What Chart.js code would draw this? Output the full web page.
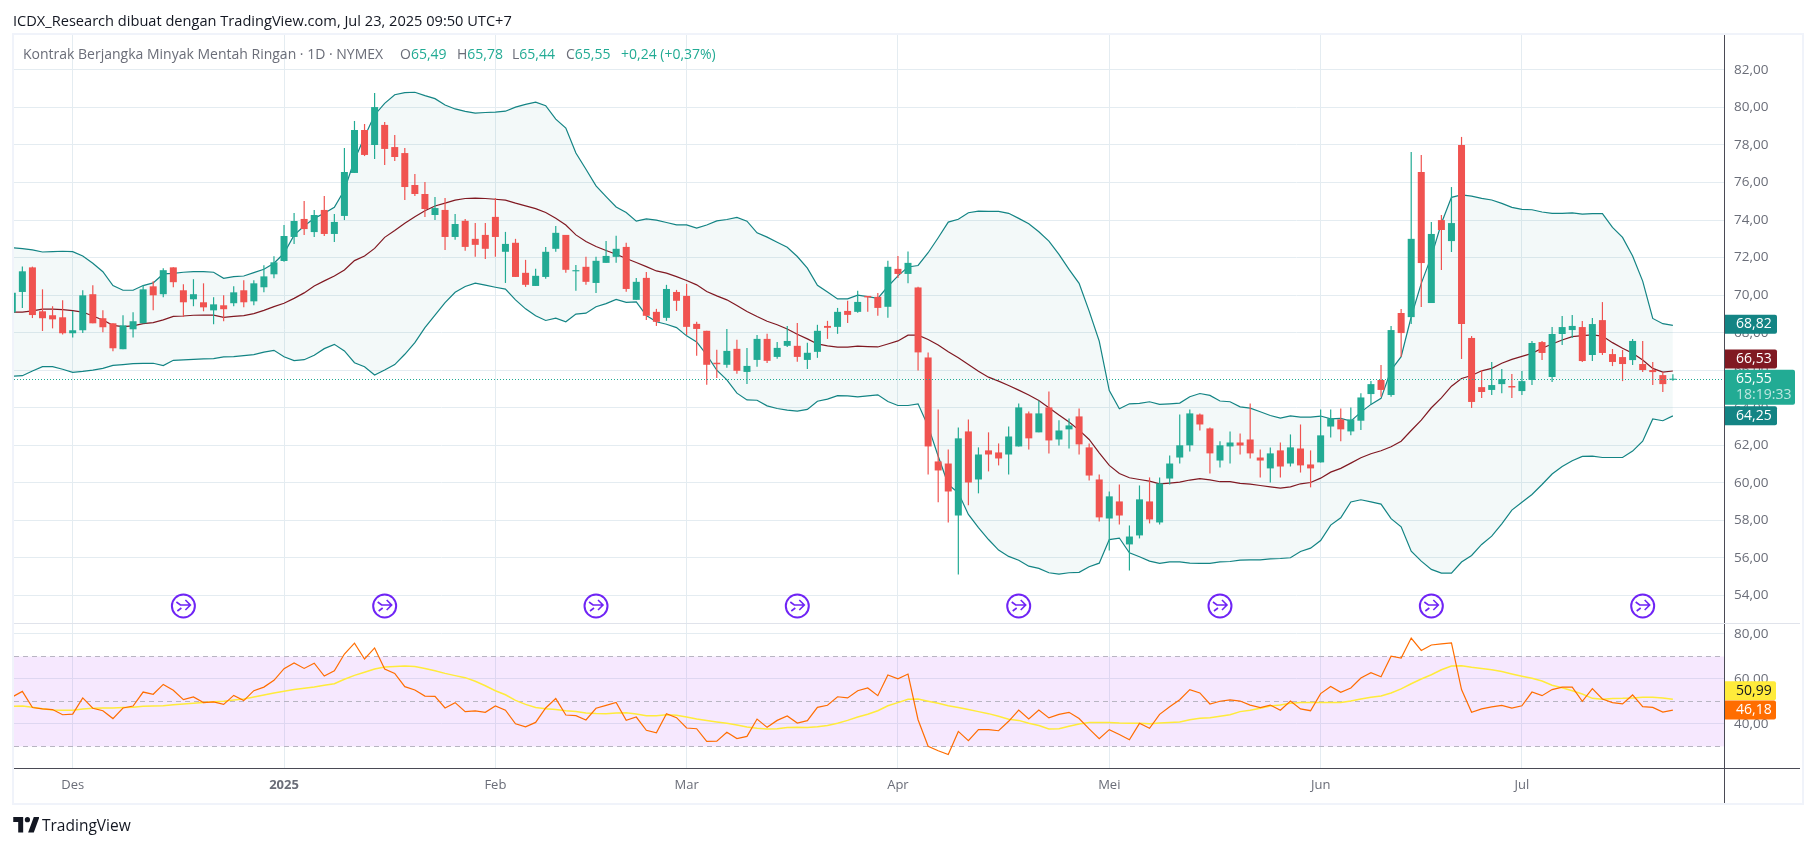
<!DOCTYPE html>
<html>
<head>
<meta charset="utf-8">
<title>Kontrak Berjangka Minyak Mentah Ringan</title>
<script src="https://cdn.jsdelivr.net/npm/chart.js@4"></script>
<style>
    html, body { margin: 0; padding: 0; background: #fff; }
    body { width: 1814px; height: 847px; position: relative; overflow: hidden; font-family: 'Open Sans', sans-serif; }
    canvas { position: absolute; left: 0; }
    #chartHarga { top: 0; }
    #chartRsi { top: 624px; }
    #judul { position: absolute; left: 13px; top: 10px; font-size: 14.6px; color: #131722; white-space: nowrap; }
    #legenda { position: absolute; left: 23px; top: 44px; font-size: 14px; color: #6a6d78; white-space: nowrap; }
    #legenda span { position: absolute; top: 0; }
    #legenda b { font-weight: normal; color: #22ab94; }
    .bingkai { position: absolute; left: 12px; top: 33px; width: 1788px; height: 768px; border: 2px solid #f0f3fa; pointer-events: none; }
    .garis { position: absolute; background: #4a4a55; }
    #logo { position: absolute; left: 13px; top: 817px; }
    #logoTeks { position: absolute; left: 42px; top: 814px; font-size: 15.5px; color: #131722; }
</style>
</head>
<body>
<canvas id="chartHarga" width="1814" height="624"></canvas>
<canvas id="chartRsi" width="1814" height="223"></canvas>
<div class="bingkai"></div>
<div class="garis" style="left:1724px;top:35px;width:1px;height:768px"></div>
<div class="garis" style="left:14px;top:768px;width:1786px;height:1px"></div>
<div style="position:absolute;left:14px;top:623px;width:1786px;height:1px;background:#e0e3eb"></div>
<div id="judul">ICDX_Research dibuat dengan TradingView.com, Jul 23, 2025 09:50 UTC+7</div>
<div id="legenda">Kontrak Berjangka Minyak Mentah Ringan · 1D · NYMEX
    <span style="left:377px">O<b>65,49</b></span>
    <span style="left:434px">H<b>65,78</b></span>
    <span style="left:489px">L<b>65,44</b></span>
    <span style="left:543px">C<b>65,55</b></span>
    <span style="left:598px"><b>+0,24 (+0,37%)</b></span>
</div>
<svg id="logo" width="26" height="17" viewBox="0 0 36 24"><path fill="#131722" d="M14 0H0v7h7v15h7V0Zm15 22h-8l8-22h8l-8 22ZM20 7.5a3.7 3.7 0 1 0 0-7.4 3.7 3.7 0 0 0 0 7.4Z"/></svg>
<div id="logoTeks">TradingView</div>

<script>
// harga harian
const opens = [69.07,70.17,71.48,69.14,68.93,68.82,67.97,68.13,70.05,68.77,
    68.50,67.12,68.18,68.50,70.47,70.05,71.48,70.26,69.78,69.62,
    69.19,69.46,69.57,70.26,69.67,70.42,71.11,71.82,73.1,74.06,
    73.36,74.54,73.26,74.22,76.51,78.8,78.0,79.07,77.89,77.57,
    75.87,75.39,74.27,74.54,73.1,73.96,73.0,73.21,74.17,72.31,
    72.79,71.19,70.49,70.97,72.47,73.21,71.27,71.51,70.65,71.72,
    72.04,72.57,69.75,70.92,69.11,68.79,70.17,69.96,68.47,68.1,
    66.4,66.29,67.14,65.91,66.55,67.67,66.71,67.3,67.3,66.55,
    66.98,68.36,68.31,69.16,69.11,69.96,69.91,69.38,71.4,71.13,
    70.41,66.68,61.14,61.03,58.26,62.74,60.18,61.73,61.62,61.51,
    61.94,63.7,62.69,64.02,62.31,62.85,63.54,61.89,60.18,58.1,
    59.01,56.72,57.2,59.01,57.89,60.23,61.35,62.0,63.64,62.9,
    61.19,61.94,62.15,62.31,61.35,60.77,61.73,61.03,61.83,60.98,
    61.09,63.0,63.38,62.74,63.31,64.73,65.48,64.68,69.05,68.83,
    76.56,69.58,74.0,72.88,78.0,67.72,65.1,64.95,65.26,65.16,
    64.89,65.48,67.5,65.64,67.93,68.14,68.3,66.81,68.67,66.86,
    66.7,66.54,66.33,66.01,65.74,65.49];
const highs = [70.13,71.52,71.52,70.31,69.41,69.73,69.16,70.26,70.53,69.19,
    68.50,68.93,69.09,70.53,70.74,71.43,71.48,70.58,70.85,70.63,
    69.89,69.99,70.47,70.79,70.79,71.59,72.07,73.74,74.38,75.02,
    74.54,75.28,74.32,77.84,79.28,79.12,80.77,79.23,78.53,77.84,
    76.46,76.03,75.23,75.18,74.32,74.06,73.85,73.85,75.17,73.37,
    73.0,71.88,71.4,72.57,73.69,73.21,71.61,72.04,72.04,72.89,
    73.16,72.79,70.92,71.24,69.27,70.55,70.28,70.6,68.58,68.1,
    67.09,68.2,67.62,67.19,67.88,67.94,67.51,68.36,68.52,67.46,
    68.42,68.63,69.32,69.7,70.23,69.96,70.12,71.83,72.09,72.33,
    70.45,66.95,63.91,61.78,62.95,63.38,61.89,62.69,62.1,63.0,
    64.23,63.8,64.39,64.87,63.33,63.43,63.96,62.1,60.45,59.54,
    59.91,57.73,59.86,60.29,60.29,61.46,63.64,63.91,63.7,62.95,
    62.21,62.74,62.63,64.23,61.78,61.89,62.15,62.58,63.11,61.73,
    63.91,63.91,63.96,64.02,64.77,65.42,66.28,68.36,69.26,77.63,
    77.47,73.9,74.27,75.76,78.43,67.82,66.01,66.44,66.06,65.8,
    65.96,67.56,67.56,68.3,68.89,68.94,68.62,68.78,69.63,67.13,
    67.08,67.66,67.56,66.44,65.9,65.78];
const lows = [69.07,69.32,68.78,68.09,68.23,67.91,67.75,67.99,68.50,68.02,
    67.01,67.12,67.75,68.50,69.19,69.89,70.42,68.84,69.41,69.14,
    68.45,68.61,69.41,69.35,69.46,70.15,70.9,71.78,72.73,73.2,
    73.1,73.15,72.83,74.0,76.51,77.41,77.25,76.93,77.15,75.07,
    75.28,74.16,74.0,72.41,72.95,72.36,72.04,71.93,72.04,70.65,
    70.97,70.44,70.49,70.87,72.31,71.19,70.23,70.55,70.12,71.72,
    71.72,70.18,69.75,68.68,68.36,68.63,69.16,67.88,66.77,65.22,
    65.59,66.13,65.81,65.27,66.18,66.39,66.61,67.24,66.45,66.07,
    66.66,67.67,67.94,68.52,69.06,69.11,68.9,68.79,70.92,70.63,
    65.99,60.45,58.96,57.89,55.12,58.8,59.44,60.61,60.93,60.45,
    61.94,61.78,62.69,61.57,61.99,61.83,61.51,60.13,57.94,56.4,
    57.78,55.33,57.04,57.84,57.78,59.91,61.03,61.67,62.79,60.5,
    60.82,61.03,61.51,61.3,60.29,60.02,60.29,60.87,60.55,59.76,
    61.09,62.42,62.21,62.53,62.81,64.2,64.59,64.59,66.72,68.46,
    69.37,69.58,71.34,72.3,66.6,63.99,64.52,64.68,64.78,64.52,
    64.68,65.21,66.54,65.37,67.34,67.72,66.44,66.49,66.81,66.22,
    65.42,66.28,65.9,65.21,64.84,65.44];
const closes = [70.13,71.27,68.94,68.77,68.71,67.97,68.13,69.99,68.50,68.29,
    67.17,68.39,68.61,70.31,69.99,71.33,70.69,69.62,70.05,69.35,
    69.51,69.25,70.15,69.62,70.63,71.0,71.75,73.15,73.95,73.52,
    74.27,73.26,73.9,76.56,78.8,77.47,80.02,77.79,77.36,75.76,
    75.39,74.59,74.64,73.1,73.79,72.57,72.68,72.47,73.1,72.73,
    70.97,70.55,71.03,72.31,73.32,71.35,71.33,70.71,71.83,72.09,
    72.47,70.33,70.71,68.9,68.58,70.33,69.7,68.31,68.2,66.29,
    66.32,67.03,65.97,66.23,67.67,66.5,67.19,67.56,66.71,66.93,
    68.1,68.26,69.11,68.95,69.64,69.88,69.32,71.51,71.13,71.72,
    66.95,61.94,60.66,59.54,62.37,60.02,61.51,61.51,61.3,62.47,
    64.02,62.37,63.7,62.26,62.79,63.06,62.05,60.39,58.16,59.28,
    58.26,57.14,59.12,58.05,59.97,61.03,62.0,63.7,63.11,61.57,
    62.0,62.15,61.99,61.57,61.19,61.57,60.87,61.89,60.93,60.77,
    62.53,63.43,62.85,63.38,64.55,65.26,64.95,68.14,67.98,73.0,
    71.71,73.26,73.47,73.84,68.46,64.31,64.84,65.21,65.53,65.08,
    65.42,67.45,66.92,67.93,68.3,68.36,66.49,68.46,66.92,66.44,
    66.33,67.56,66.01,65.9,65.26,65.55];

// bollinger bands
const bbUpper = [72.53,72.48,72.41,72.30,72.32,72.34,72.32,72.09,71.70,71.25,
    70.51,70.26,70.26,70.51,70.65,71.13,71.16,71.22,71.25,71.25,
    71.22,70.9,70.99,71.02,71.2,71.38,71.7,72.23,73.2,73.68,
    74.09,74.36,74.68,75.6,77.2,78.44,79.6,80.22,80.68,80.79,
    80.81,80.63,80.47,80.13,79.92,79.79,79.7,79.73,79.75,79.8,
    80.02,80.16,80.28,80.09,79.38,78.9,77.57,76.71,75.82,75.25,
    74.7,74.4,73.94,74.06,74.0,73.87,73.74,73.74,73.57,73.74,
    73.96,74.03,74.14,73.94,73.32,73.09,72.82,72.55,72.06,71.44,
    70.53,70.17,69.8,69.8,70.0,69.92,69.83,70.46,71.03,71.5,
    71.58,72.26,73.06,73.89,74.04,74.39,74.48,74.46,74.46,74.36,
    74.09,73.8,73.38,72.88,72.17,71.37,70.63,69.15,67.55,64.92,
    63.95,64.21,64.23,64.32,64.18,64.21,64.25,64.59,64.76,64.66,
    64.36,64.32,64.05,63.98,63.79,63.59,63.45,63.57,63.5,63.5,
    63.56,63.41,63.43,63.29,63.77,64.18,64.5,66.01,66.72,68.85,
    70.63,72.05,73.83,75.21,75.34,75.28,75.16,75.07,74.89,74.68,
    74.57,74.55,74.43,74.36,74.36,74.38,74.32,74.34,74.34,73.61,
    73.08,72.09,70.75,68.76,68.48,68.39];
const bbBasis = [69.1,69.1,69.16,69.26,69.26,69.23,69.18,69.1,68.89,68.68,
    68.39,68.32,68.36,68.48,68.54,68.68,68.87,68.89,68.93,68.94,
    68.94,68.82,68.87,68.91,69.02,69.19,69.39,69.57,69.83,70.12,
    70.49,70.76,71.02,71.34,71.84,72.09,72.49,73.08,73.44,73.83,
    74.18,74.5,74.75,74.9,75.06,75.15,75.17,75.15,75.11,75.06,
    74.9,74.76,74.61,74.4,74.1,73.74,73.21,72.86,72.59,72.38,
    72.18,71.95,71.74,71.52,71.29,71.17,70.99,70.78,70.55,70.19,
    69.96,69.75,69.45,69.13,68.86,68.61,68.42,68.2,67.92,67.67,
    67.4,67.3,67.23,67.23,67.28,67.26,67.24,67.4,67.56,67.87,
    67.87,67.64,67.34,66.98,66.66,66.31,65.95,65.63,65.42,65.19,
    64.94,64.68,64.39,64.0,63.61,63.24,62.81,62.31,61.6,60.93,
    60.5,60.27,60.18,60.09,59.95,59.99,60.04,60.15,60.23,60.16,
    60.06,60.06,59.97,59.93,59.86,59.79,59.72,59.79,59.95,60.02,
    60.25,60.57,60.77,61.05,61.34,61.55,61.71,61.92,62.22,62.79,
    63.34,64.0,64.53,65.15,65.56,65.72,65.97,66.1,66.37,66.58,
    66.74,66.9,67.17,67.4,67.61,67.79,67.84,67.88,67.82,67.47,
    67.17,66.9,66.54,66.1,65.9,65.96];
const bbLower = [65.68,65.71,65.96,66.19,66.19,66.05,65.89,65.94,66.01,66.1,
    66.26,66.3,66.35,66.37,66.37,66.25,66.53,66.55,66.58,66.6,
    66.62,66.71,66.72,66.78,66.83,66.96,67.06,66.72,66.51,66.56,
    66.8,67.15,67.38,67.03,66.4,66.19,65.75,66.01,66.3,66.85,
    67.47,68.27,68.93,69.6,70.15,70.46,70.64,70.53,70.42,70.32,
    69.75,69.27,68.9,68.65,68.77,68.58,68.99,69.04,69.38,69.55,
    69.77,69.62,69.64,68.91,68.58,68.45,68.27,67.83,67.51,66.82,
    66.0,65.49,64.78,64.42,64.4,64.1,63.96,63.87,63.82,63.91,
    64.35,64.46,64.65,64.63,64.58,64.63,64.69,64.33,64.12,64.12,
    64.21,63.02,61.42,59.91,59.47,58.32,57.61,56.98,56.42,56.08,
    55.88,55.56,55.44,55.21,55.14,55.21,55.23,55.53,55.72,56.98,
    57.06,56.27,56.06,55.83,55.71,55.79,55.79,55.72,55.71,55.71,
    55.79,55.81,55.88,55.9,55.9,55.95,55.97,56.01,56.34,56.52,
    56.93,57.75,58.14,58.98,59.1,58.99,58.87,58.09,57.66,56.36,
    55.83,55.39,55.19,55.19,55.78,56.13,56.72,57.16,57.82,58.55,
    58.97,59.38,59.91,60.47,60.87,61.18,61.41,61.42,61.35,61.35,
    61.35,61.69,62.22,63.4,63.31,63.57];

// rsi dan rata-ratanya
const rsiValues = [52.0,54.5,47.3,46.7,46.4,44.1,44.4,51.6,47.0,45.9,
    42.4,47.1,48.0,54.2,53.2,57.6,55.0,50.8,52.0,49.5,
    49.8,48.7,52.7,50.4,54.8,56.4,59.4,64.6,67.1,64.7,
    67.0,61.3,63.6,71.1,75.9,68.9,73.8,64.4,62.5,56.6,
    55.1,52.4,52.3,47.1,49.5,45.5,45.8,45.2,48.0,46.1,
    40.1,38.7,40.7,47.1,51.3,44.0,43.7,41.8,47.0,48.3,
    49.6,41.6,43.1,37.2,36.1,44.6,42.8,38.2,37.9,32.3,
    32.4,36.3,33.5,34.5,42.2,38.5,41.6,43.6,40.4,41.5,
    47.4,48.3,52.1,51.6,54.8,56.0,52.6,61.8,60.1,62.2,
    41.9,30.1,28.1,26.4,36.7,32.6,37.5,37.5,37.0,41.2,
    46.2,42.2,46.2,42.7,44.3,45.2,42.4,37.8,33.5,37.5,
    35.3,33.0,40.3,38.1,44.3,47.7,50.8,55.3,53.8,48.9,
    50.1,50.7,50.2,48.4,47.3,48.4,46.1,50.2,46.7,45.9,
    53.5,56.7,54.1,56.0,60.4,62.8,61.0,70.1,69.3,78.2,
    72.7,75.1,75.6,76.0,55.3,45.2,46.7,47.6,48.3,47.1,
    48.1,54.2,52.6,55.3,56.4,56.4,50.1,55.7,51.1,49.5,
    48.9,52.9,47.7,47.4,45.3,46.2];
const rsiMa = [47.9,48.0,47.4,46.8,46.2,46.1,46.1,46.7,47.0,47.1,
    47.1,47.3,47.4,47.9,48.0,48.1,48.6,48.9,49.2,49.5,
    49.9,50.1,50.7,51.1,52.0,52.9,53.8,54.5,55.3,55.9,
    56.4,57.2,57.9,59.9,61.6,63.0,64.4,65.3,65.6,65.8,
    65.5,64.7,63.7,62.5,61.5,60.6,59.0,57.0,54.8,53.0,
    50.5,48.7,47.3,46.8,46.4,45.9,45.5,44.9,44.7,44.6,
    44.9,45.0,44.4,43.7,43.7,44.1,43.9,43.1,42.2,41.5,
    40.9,40.3,39.6,38.7,38.1,37.8,37.9,38.4,38.5,38.4,
    38.8,39.3,40.3,41.6,43.1,44.3,45.9,48.1,49.5,51.0,
    51.1,50.1,49.2,48.1,47.3,46.4,45.5,44.6,43.4,42.1,
    41.6,40.3,39.3,37.8,37.9,39.0,40.0,40.7,40.7,40.7,
    40.4,40.3,40.3,40.1,40.4,40.7,40.9,41.9,42.5,42.8,
    43.4,44.1,45.5,46.1,47.0,48.0,48.4,49.2,49.5,49.5,
    49.6,49.6,49.6,50.2,51.1,51.9,52.4,53.8,55.6,57.9,
    60.0,61.9,64.1,65.8,65.9,65.2,64.7,64.1,63.3,62.2,
    61.2,60.3,59.1,57.2,56.1,54.8,53.3,51.4,51.0,51.3,
    51.4,51.6,51.9,51.9,51.6,51.0];

const priceTicks = [54,56,58,60,62,64,66,68,70,72,74,76,78,80,82];
const rsiTicks = [40,60,80];
const rsiLevels = [70,50,30];
const monthBars = [6,27,48,67,88,109,130,150];
const monthLabels = ['Des','2025','Feb','Mar','Apr','Mei','Jun','Jul'];
const dividendBars = [17,37,58,78,100,120,141,162];

// label harga di sumbu kanan
const labelUpper = '68,82';
const labelBasis = '66,53';
const labelClose = '65,55';
const labelTimer = '18:19:33';
const labelLower = '64,25';
const labelMa = '50,99';
const labelRsi = '46,18';

const UP = '#22ab94';
const DOWN = '#f05350';
const BAND = '#138484';
const BASIS = '#801922';
const GRID = '#e4ecf1';
const TEXT = '#6a6d78';
const FONT = "'Open Sans', sans-serif";

const xMin = 0.169;
const xMax = 170.08;
const barDate = opens.map((_, i) => i);
const toXY = arr => arr.map((v, i) => ({ x: barDate[i], y: v }));
const rupiahFmt = v => v.toFixed(2).replace('.', ',');

function drawTag(ctx, x, yMid, w, h, bg, color, text) {
    ctx.fillStyle = bg;
    ctx.beginPath();
    ctx.roundRect(x, yMid - h / 2, w, h, [0, 2, 2, 0]);
    ctx.fill();
    ctx.fillStyle = color;
    ctx.font = '14px ' + FONT;
    ctx.textAlign = 'left';
    ctx.textBaseline = 'middle';
    ctx.fillText(text, x + 11, yMid);
}

const hargaPlugin = {
    id: 'hargaPlugin',
    afterDatasetsDraw(chart) {
        const { ctx, scales, chartArea } = chart;
        const last = opens.length - 1;

        // garis titik harga terakhir
        const yClose = scales.y.getPixelForValue(closes[last]);
        ctx.save();
        ctx.strokeStyle = UP;
        ctx.lineWidth = 1;
        ctx.setLineDash([1, 2]);
        ctx.beginPath();
        ctx.moveTo(chartArea.left, Math.round(yClose) + 0.5);
        ctx.lineTo(chartArea.right, Math.round(yClose) + 0.5);
        ctx.stroke();
        ctx.setLineDash([]);

        // ikon dividen
        dividendBars.forEach(bar => {
            const cx = scales.x.getPixelForValue(bar);
            const cy = 606;
            ctx.strokeStyle = '#6f24f5';
            ctx.lineWidth = 2;
            ctx.beginPath();
            ctx.arc(cx, cy, 11.5, 0, Math.PI * 2);
            ctx.stroke();
            ctx.lineWidth = 1.6;
            ctx.beginPath();
            ctx.moveTo(cx - 7, cy - 4);
            ctx.lineTo(cx - 3, cy - 1);
            ctx.lineTo(cx + 7, cy - 1);
            ctx.moveTo(cx + 2, cy - 6);
            ctx.lineTo(cx + 7, cy - 1);
            ctx.lineTo(cx + 2, cy + 4);
            ctx.moveTo(cx - 6, cy + 5);
            ctx.lineTo(cx - 2, cy + 2);
            ctx.stroke();
        });

        // label sumbu harga, label basis digeser ke atas supaya tidak tertutup
        const x = chartArea.right + 1;
        drawTag(ctx, x, scales.y.getPixelForValue(bbUpper[last]) - 1, 52, 19, BAND, '#fff', labelUpper);
        drawTag(ctx, x, scales.y.getPixelForValue(bbBasis[last]) - 12, 52, 19, BASIS, '#fff', labelBasis);
        drawTag(ctx, x, scales.y.getPixelForValue(bbLower[last]), 52, 19, BAND, '#fff', labelLower);
        ctx.fillStyle = UP;
        ctx.beginPath();
        ctx.roundRect(x, yClose - 9, 70, 35, [0, 2, 2, 0]);
        ctx.fill();
        ctx.fillStyle = '#fff';
        ctx.font = '14px ' + FONT;
        ctx.textAlign = 'left';
        ctx.textBaseline = 'middle';
        ctx.fillText(labelClose, x + 11, yClose);
        ctx.fillStyle = 'rgba(255,255,255,0.7)';
        ctx.fillText(labelTimer, x + 11, yClose + 16);
        ctx.restore();
    }
};

const rsiPlugin = {
    id: 'rsiPlugin',
    beforeDatasetsDraw(chart) {
        const { ctx, scales, chartArea } = chart;
        const yTop = scales.y.getPixelForValue(rsiLevels[0]);
        const yBot = scales.y.getPixelForValue(rsiLevels[2]);
        ctx.save();
        ctx.fillStyle = 'rgba(170, 50, 245, 0.11)';
        ctx.fillRect(chartArea.left, yTop, chartArea.right - chartArea.left, yBot - yTop);
        ctx.strokeStyle = '#b8b5c2';
        ctx.lineWidth = 1;
        ctx.setLineDash([5, 4]);
        rsiLevels.forEach(level => {
            const y = Math.round(scales.y.getPixelForValue(level)) + 0.5;
            ctx.beginPath();
            ctx.moveTo(chartArea.left, y);
            ctx.lineTo(chartArea.right, y);
            ctx.stroke();
        });
        ctx.restore();
    },
    afterDatasetsDraw(chart) {
        const { ctx, scales, chartArea } = chart;
        const last = rsiValues.length - 1;
        ctx.save();
        drawTag(ctx, chartArea.right + 1, scales.y.getPixelForValue(rsiMa[last]) - 8.5, 51, 19, '#ffeb3b', '#131722', labelMa);
        drawTag(ctx, chartArea.right + 1, scales.y.getPixelForValue(rsiValues[last]), 51, 19, '#ff6d00', '#fff', labelRsi);
        ctx.restore();
    }
};

function xScale(showTicks) {
    return {
        type: 'linear',
        min: xMin,
        max: xMax,
        offset: false,
        afterBuildTicks: s => { s.ticks = monthBars.map(v => ({ value: v })); },
        afterFit: s => {
            s.height = showTicks ? 35 : 0;
            s.paddingLeft = 0;
            s.paddingRight = 0;
        },
        grid: { color: GRID, drawTicks: false, offset: false },
        border: { display: false },
        ticks: {
            display: showTicks,
            autoSkip: false,
            maxRotation: 0,
            padding: 9,
            color: TEXT,
            font: c => ({ family: FONT, size: 13, weight: c.tick && monthLabels[monthBars.indexOf(c.tick.value)] === '2025' ? 'bold' : 'normal' }),
            callback: v => monthLabels[monthBars.indexOf(v)]
        }
    };
}

function yScale(min, max, tickValues) {
    return {
        position: 'right',
        min: min,
        max: max,
        afterBuildTicks: s => { s.ticks = tickValues.map(v => ({ value: v })); },
        afterFit: s => {
            s.width = 77;
            s.paddingTop = 0;
            s.paddingBottom = 0;
        },
        grid: { color: GRID, drawTicks: false },
        border: { display: false },
        ticks: {
            autoSkip: false,
            padding: 10,
            color: TEXT,
            font: { family: FONT, size: 13.5 },
            callback: v => rupiahFmt(v)
        }
    };
}

const isUp = i => closes[i] >= opens[i];
const candleColors = barDate.map(i => (isUp(i) ? UP : DOWN));

new Chart(document.getElementById('chartHarga'), {
    type: 'bar',
    data: {
        datasets: [
            {
                label: 'Body',
                data: barDate.map(i => ({ x: i, y: [opens[i], closes[i]] })),
                backgroundColor: candleColors,
                barThickness: 7,
                grouped: false,
                inflateAmount: 0,
                minBarLength: 1,
                order: 1
            },
            {
                label: 'Wick',
                data: barDate.map(i => ({ x: i, y: [lows[i], highs[i]] })),
                backgroundColor: candleColors,
                barThickness: 1.2,
                grouped: false,
                inflateAmount: 0,
                order: 2
            },
            {
                type: 'line',
                label: 'Basis',
                data: toXY(bbBasis),
                borderColor: BASIS,
                borderWidth: 1.2,
                pointRadius: 0,
                order: 3
            },
            {
                type: 'line',
                label: 'Upper',
                data: toXY(bbUpper),
                borderColor: BAND,
                borderWidth: 1.2,
                pointRadius: 0,
                fill: { target: 4 },
                backgroundColor: 'rgba(33, 150, 143, 0.055)',
                order: 4
            },
            {
                type: 'line',
                label: 'Lower',
                data: toXY(bbLower),
                borderColor: BAND,
                borderWidth: 1.2,
                pointRadius: 0,
                order: 4
            }
        ]
    },
    options: {
        responsive: false,
        animation: false,
        devicePixelRatio: 1,
        layout: { padding: { left: 14, top: 35, right: 13, bottom: 0 } },
        plugins: { legend: { display: false }, tooltip: { enabled: false } },
        scales: { x: xScale(false), y: yScale(52.48, 83.86, priceTicks) }
    },
    plugins: [hargaPlugin]
});

new Chart(document.getElementById('chartRsi'), {
    type: 'line',
    data: {
        datasets: [
            { label: 'RSI', data: toXY(rsiValues), borderColor: '#ff6d00', borderWidth: 1.2, pointRadius: 0, order: 1 },
            { label: 'RSI MA', data: toXY(rsiMa), borderColor: '#ffeb3b', borderWidth: 1.5, pointRadius: 0, order: 2 }
        ]
    },
    options: {
        responsive: false,
        animation: false,
        devicePixelRatio: 1,
        layout: { padding: { left: 14, top: 0, right: 13, bottom: 44 } },
        plugins: { legend: { display: false }, tooltip: { enabled: false } },
        scales: { x: xScale(true), y: yScale(20.44, 84.44, rsiTicks) }
    },
    plugins: [rsiPlugin]
});
</script>
</body>
</html>
